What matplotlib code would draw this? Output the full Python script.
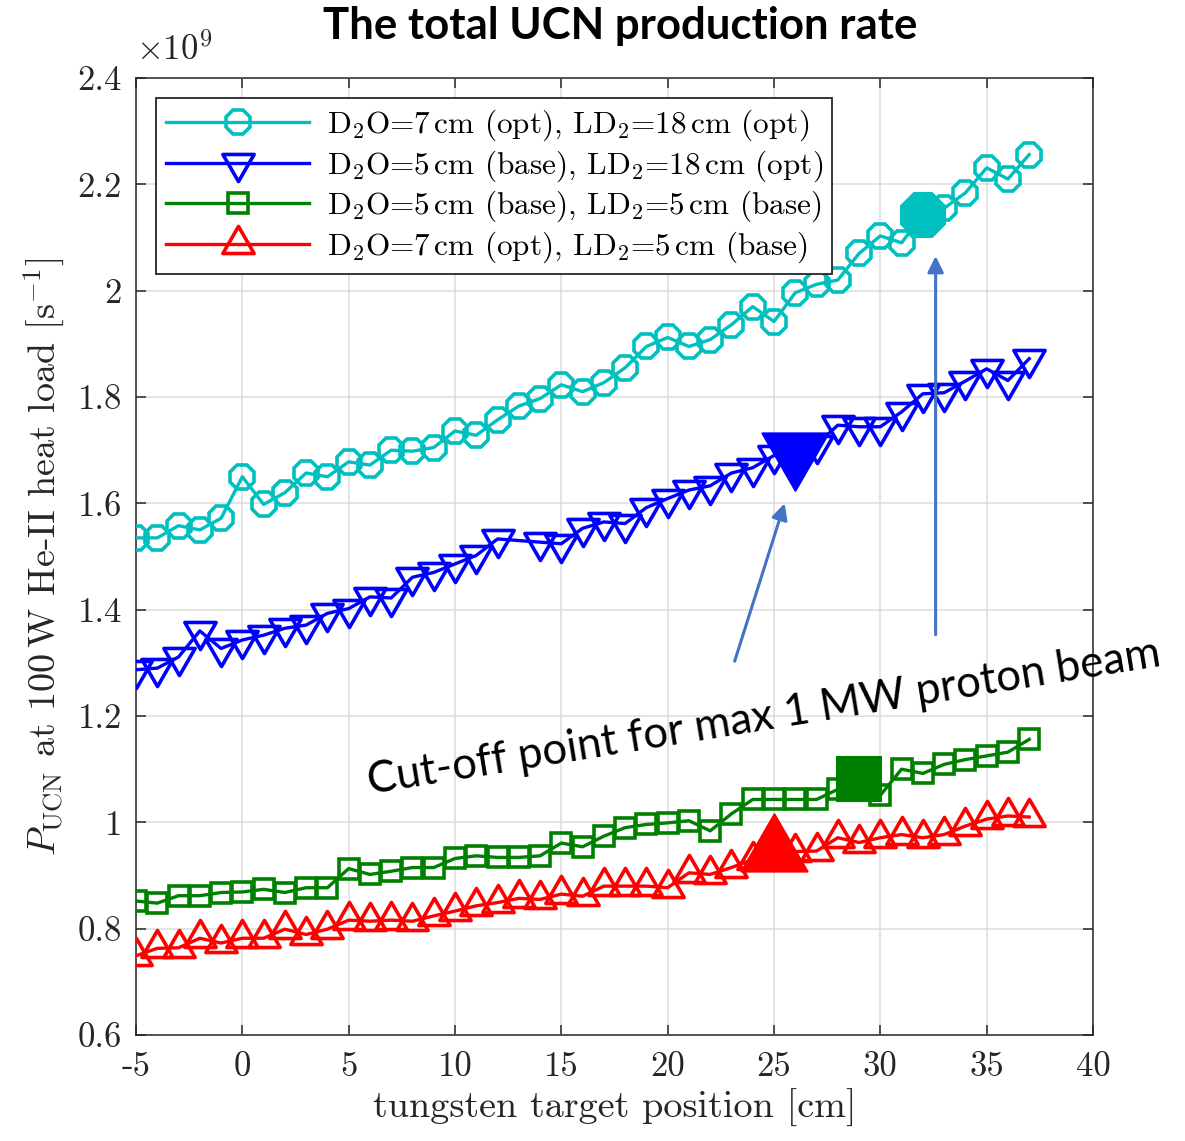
import numpy as np
import matplotlib
matplotlib.use("Agg")
import matplotlib.pyplot as plt
from matplotlib.path import Path

plt.rcParams["font.family"] = "cmr10"
plt.rcParams["mathtext.fontset"] = "cm"
plt.rcParams["axes.unicode_minus"] = False

# ---- data (P_UCN in units of 1e9 s^-1) ----
positions = list(range(-5, 38))
positions_blue = [p for p in positions if p != 13]

ucn_d2o7_ld18 = [1.535, 1.535, 1.558, 1.550, 1.572, 1.650, 1.598, 1.620, 1.657, 1.650,
                 1.678, 1.672, 1.700, 1.698, 1.705, 1.736, 1.728, 1.757, 1.783, 1.797,
                 1.823, 1.810, 1.827, 1.855, 1.895, 1.912, 1.895, 1.908, 1.936, 1.970,
                 1.942, 1.996, 2.012, 2.020, 2.070, 2.103, 2.090, 2.143, 2.155, 2.184,
                 2.231, 2.210, 2.256]
ucn_d2o5_ld18 = [1.287, 1.290, 1.311, 1.360, 1.327, 1.343, 1.352, 1.365, 1.371, 1.393,
                 1.402, 1.424, 1.422, 1.461, 1.470, 1.486, 1.502, 1.533, 1.527,
                 1.524, 1.553, 1.565, 1.562, 1.592, 1.609, 1.625, 1.633, 1.657, 1.667,
                 1.690, 1.697, 1.710, 1.747, 1.744, 1.744, 1.772, 1.806, 1.808, 1.830,
                 1.853, 1.831, 1.872]
ucn_d2o5_ld5 = [0.852, 0.848, 0.862, 0.862, 0.868, 0.869, 0.874, 0.868, 0.877, 0.877,
                0.913, 0.902, 0.908, 0.915, 0.915, 0.932, 0.937, 0.934, 0.934, 0.937,
                0.961, 0.954, 0.974, 0.990, 0.996, 0.999, 1.003, 0.984, 1.016, 1.043,
                1.043, 1.043, 1.043, 1.062, 1.082, 1.051, 1.100, 1.092, 1.109, 1.118,
                1.125, 1.132, 1.156]
ucn_d2o7_ld5 = [0.749, 0.763, 0.764, 0.782, 0.773, 0.782, 0.782, 0.799, 0.789, 0.799,
                0.816, 0.814, 0.816, 0.814, 0.824, 0.833, 0.843, 0.849, 0.857, 0.855,
                0.865, 0.861, 0.880, 0.880, 0.880, 0.877, 0.905, 0.902, 0.915, 0.930,
                0.944, 0.945, 0.946, 0.971, 0.962, 0.971, 0.977, 0.971, 0.977, 0.993,
                1.006, 1.012, 1.010]

# target position of the 1 MW cut-off for each configuration
cutoff_positions = [32, 26, 29, 25]

series_labels = [
    r"D$_2$O=7$\,$cm (opt), LD$_2$=18$\,$cm (opt)",
    r"D$_2$O=5$\,$cm (base), LD$_2$=18$\,$cm (opt)",
    r"D$_2$O=5$\,$cm (base), LD$_2$=5$\,$cm (base)",
    r"D$_2$O=7$\,$cm (opt), LD$_2$=5$\,$cm (base)",
]
series_colors = ["#00BFBF", "#0000FF", "#008000", "#FF0000"]

xticks = [-5, 0, 5, 10, 15, 20, 25, 30, 35, 40]
xtick_labels = ["-5", "0", "5", "10", "15", "20", "25", "30", "35", "40"]
yticks = [0.6, 0.8, 1.0, 1.2, 1.4, 1.6, 1.8, 2.0, 2.2, 2.4]
ytick_labels = ["0.6", "0.8", "1", "1.2", "1.4", "1.6", "1.8", "2", "2.2", "2.4"]

# triangle markers centred on their centroid
s3 = np.sqrt(3.0)
tri_down = Path([(-1, 1 / s3), (1, 1 / s3), (0, -2 / s3), (-1, 1 / s3)],
                [Path.MOVETO, Path.LINETO, Path.LINETO, Path.CLOSEPOLY])
tri_up = Path([(-1, -1 / s3), (1, -1 / s3), (0, 2 / s3), (-1, -1 / s3)],
              [Path.MOVETO, Path.LINETO, Path.LINETO, Path.CLOSEPOLY])

markers = ["8", tri_down, "s", tri_up]
msizes = [18.5, 26, 15, 26]
big_sizes = [35, 55, 31, 55]

xs_all = [positions, positions_blue, positions, positions]
ys_all = [ucn_d2o7_ld18, ucn_d2o5_ld18, ucn_d2o5_ld5, ucn_d2o7_ld5]

fig = plt.figure(figsize=(11.85, 11.41), dpi=100)
ax = fig.add_axes([136 / 1185, 1 - 1035 / 1141, (1093 - 136) / 1185, (1035 - 78) / 1141])

handles = []
for xs, ys, col, mk, ms, lab in zip(xs_all, ys_all, series_colors, markers, msizes, series_labels):
    h, = ax.plot(xs, ys, color=col, lw=2.4, marker=mk, ms=ms, mfc="none",
                 mec=col, mew=2.6, label=lab, zorder=3)
    handles.append(h)

for xs, ys, col, mk, ms, cx in zip(xs_all, ys_all, series_colors, markers, big_sizes, cutoff_positions):
    yv = ys[xs.index(cx)]
    ax.plot([cx], [yv], linestyle="none", marker=mk, ms=ms, mfc=col, mec=col,
            mew=1.5, zorder=4)

ax.set_xlim(-5, 40)
ax.set_ylim(0.6, 2.4)
ax.set_xticks(xticks)
ax.set_xticklabels(xtick_labels)
ax.set_yticks(yticks)
ax.set_yticklabels(ytick_labels)
ax.tick_params(direction="in", length=7, width=1.1, colors="#262626",
               labelsize=25, top=True, right=True)
ax.tick_params(axis="x", pad=12)
ax.tick_params(axis="y", pad=10)
for sp in ax.spines.values():
    sp.set_color("#262626")
    sp.set_linewidth(1.1)
ax.grid(True, color="#DCDCDC", lw=1.1)
ax.set_axisbelow(True)

ax.set_xlabel("tungsten target position [cm]", fontsize=27.5, color="#262626", labelpad=4)
ax.set_ylabel(r"$P_{\rm UCN}$ at 100$\,$W He-II heat load [s$^{-1}$]", fontsize=27.5,
              color="#262626", labelpad=8)
ax.text(0.0, 1.012, r"$\times10^{9}$", transform=ax.transAxes, fontsize=25,
        color="#262626", ha="left", va="bottom")

leg = ax.legend(handles=handles, loc="upper left", fontsize=22.5, frameon=True,
                fancybox=False, edgecolor="#262626", framealpha=1.0,
                handlelength=4.6, handletextpad=0.55, labelspacing=0.16,
                borderpad=0.3, borderaxespad=0.65)
leg.get_frame().set_linewidth(1.3)

# cut-off arrows
arrow_col = "#4472C4"
ax.annotate("", xy=(25.5, 1.60), xytext=(23.15, 1.303),
            arrowprops=dict(arrowstyle="-|>", color=arrow_col, lw=2.2, mutation_scale=24,
                            shrinkA=0, shrinkB=0), zorder=5)
ax.annotate("", xy=(32.6, 2.065), xytext=(32.6, 1.353),
            arrowprops=dict(arrowstyle="-|>", color=arrow_col, lw=2.2, mutation_scale=24,
                            shrinkA=0, shrinkB=0), zorder=5)

fig.text(764 / 1185, 1 - 718 / 1141, "Cut-off point for max 1 MW proton beam",
         family="Lato", fontsize=31.5, rotation=9.2, rotation_mode="anchor",
         ha="center", va="center", color="black")

fig.text(620 / 1185, 1 - 26 / 1141, "The total UCN production rate",
         family="Lato", fontweight="bold", fontsize=31.5, ha="center", va="center")

fig.savefig("out.png", dpi=100)
